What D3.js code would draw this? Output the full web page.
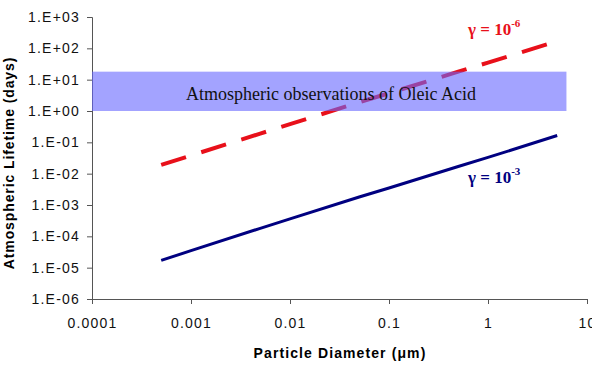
<!DOCTYPE html>
<html>
<head>
<meta charset="utf-8">
<script src="https://cdn.jsdelivr.net/npm/d3@7"></script>
<style>
  body { margin: 0; background: #fff; }
  svg { display: block; }
</style>
</head>
<body>
<div id="chart"></div>
<script>
// particle diameters (um)
const diameters = [0.0005, 0.001, 0.005, 0.01, 0.05, 0.1, 0.5, 1, 5];
// lifetime in days for each uptake coefficient
const lifetimeG3 = [1.7e-5, 3.5e-5, 1.8e-4, 3.6e-4, 1.8e-3, 3.5e-3, 1.7e-2, 3.3e-2, 1.65e-1];
const lifetimeG6 = [1.9e-2, 3.8e-2, 0.19, 0.38, 1.9, 3.7, 18, 35, 170];
const xTicks = [0.0001, 0.001, 0.01, 0.1, 1, 10];
const xTickLabels = ["0.0001", "0.001", "0.01", "0.1", "1", "10"];
const yTicks = [1e-6, 1e-5, 1e-4, 1e-3, 1e-2, 1e-1, 1, 10, 100, 1000];
const obsRange = [1, 18];

const width = 592, height = 366;
const margin = {left: 92, right: 5, top: 17, bottom: 67};
const sans = "Arial, 'Liberation Sans', sans-serif";
const serif = "'Liberation Serif', 'Times New Roman', serif";

const svg = d3.select("#chart")
  .append("svg")
  .attr("width", width)
  .attr("height", height);

const xScale = d3.scaleLog()
  .domain([0.0001, 10])
  .range([margin.left, width - margin.right]);
const yScale = d3.scaleLog()
  .domain([1e-6, 1000])
  .range([height - margin.bottom, margin.top]);

function expFormat(v) {
  const e = Math.round(Math.log10(v));
  const s = e < 0 ? "-" : "+";
  return "1.E" + s + String(Math.abs(e)).padStart(2, "0");
}

const xAxis = d3.axisBottom(xScale).tickValues(xTicks).tickSize(5).tickPadding(14)
  .tickFormat((d, i) => xTickLabels[i]);
const yAxis = d3.axisLeft(yScale).tickValues(yTicks).tickSize(5).tickPadding(7)
  .tickFormat(expFormat);

const gx = svg.append("g")
  .attr("transform", `translate(0,${height - margin.bottom})`)
  .call(xAxis);
const gy = svg.append("g")
  .attr("transform", `translate(${margin.left},0)`)
  .call(yAxis);

[gx, gy].forEach(g => {
  g.select(".domain").attr("stroke", "#555").attr("stroke-width", 1);
  g.selectAll(".tick line").attr("stroke", "#555");
  g.selectAll("text")
    .style("font-family", sans)
    .style("font-size", "14px")
    .style("letter-spacing", "1.2px")
    .attr("fill", "#111");
});

const line = d3.line()
  .x(d => xScale(d[0]))
  .y(d => yScale(d[1]));

svg.append("path")
  .attr("d", line(diameters.map((d, i) => [d, lifetimeG3[i]])))
  .attr("fill", "none")
  .attr("stroke", "#000080")
  .attr("stroke-width", 3);

svg.append("path")
  .attr("d", line(diameters.map((d, i) => [d, lifetimeG6[i]])))
  .attr("fill", "none")
  .attr("stroke", "#e8101a")
  .attr("stroke-width", 4)
  .attr("stroke-dasharray", "26,16");

// observation band drawn over the lines, semi transparent
svg.append("rect")
  .attr("x", xScale(0.0001))
  .attr("y", yScale(obsRange[1]))
  .attr("width", xScale(6.2) - xScale(0.0001))
  .attr("height", yScale(obsRange[0]) - yScale(obsRange[1]))
  .attr("fill", "#6666ff")
  .style("fill-opacity", 0.6);

svg.append("text")
  .attr("x", 331)
  .attr("y", 100)
  .attr("text-anchor", "middle")
  .style("font-family", serif)
  .style("font-size", "18px")
  .attr("fill", "#111")
  .text("Atmospheric observations of Oleic Acid");

function gammaLabel(x, y, exp, color) {
  const t = svg.append("text")
    .attr("x", x)
    .attr("y", y)
    .style("font-family", serif)
    .style("font-size", "17px")
    .style("font-weight", "bold")
    .attr("fill", color);
  t.append("tspan").text("\u03B3 = 10");
  t.append("tspan").attr("dy", -8).style("font-size", "11px").text(exp);
}
gammaLabel(468, 35, "-6", "#e8101a");
gammaLabel(468, 183, "-3", "#000080");

svg.append("text")
  .attr("x", 340)
  .attr("y", 358)
  .attr("text-anchor", "middle")
  .style("font-family", sans)
  .style("font-size", "14px")
  .style("font-weight", "bold")
  .style("letter-spacing", "1.1px")
  .text("Particle Diameter (\u03BCm)");

svg.append("text")
  .attr("transform", `translate(14,163) rotate(-90)`)
  .attr("text-anchor", "middle")
  .style("font-family", sans)
  .style("font-size", "14px")
  .style("font-weight", "bold")
  .style("letter-spacing", "0.9px")
  .text("Atmospheric Lifetime (days)");
</script>
</body>
</html>
